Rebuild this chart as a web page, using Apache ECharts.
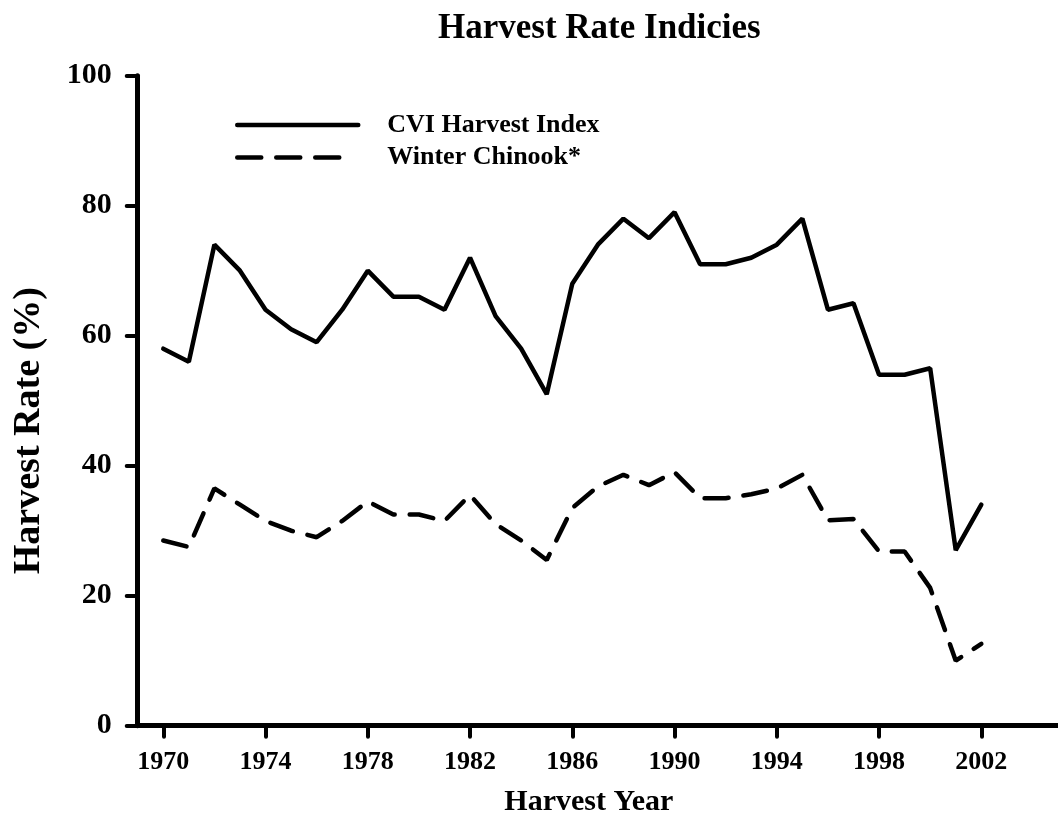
<!DOCTYPE html>
<html>
<head>
<meta charset="utf-8">
<title>Harvest Rate Indicies</title>
<script src="https://cdn.jsdelivr.net/npm/echarts@6/dist/echarts.min.js"></script>
<style>
  html, body { margin: 0; padding: 0; background: #fff; }
  #chart { width: 1058px; height: 826px; }
</style>
</head>
<body>
<div id="chart"></div>
<script>
const years = [1970, 1971, 1972, 1973, 1974, 1975, 1976, 1977, 1978, 1979, 1980,
  1981, 1982, 1983, 1984, 1985, 1986, 1987, 1988, 1989, 1990, 1991, 1992, 1993,
  1994, 1995, 1996, 1997, 1998, 1999, 2000, 2001, 2002]
const cviHarvestIndex = [58, 56, 74, 70, 64, 61, 59, 64, 70, 66, 66,
  64, 72, 63, 58, 51, 68, 74, 78, 75, 79, 71, 71, 72,
  74, 78, 64, 65, 54, 54, 55, 27, 34]
const winterChinook = [28.5, 27.5, 36.5, 34, 31.5, 30, 29, 31.5, 34.5, 32.5, 32.5,
  31.5, 35.5, 31, 28.5, 25.5, 33.5, 36.8, 38.6, 37, 39, 35, 35, 35.6,
  36.5, 38.6, 31.6, 31.8, 26.8, 26.8, 21.2, 10, 12.6]
const yearTicks = [1970, 1974, 1978, 1982, 1986, 1990, 1994, 1998, 2002]

const font = 'Liberation Serif'
const ink = '#000'
const dash = [24, 15]

const chart = echarts.init(document.getElementById('chart'), null, { renderer: 'canvas' })

chart.setOption({
  backgroundColor: '#fff',
  animation: false,
  title: {
    text: 'Harvest Rate Indicies',
    left: 433,
    top: 6,
    textStyle: { fontFamily: font, fontWeight: 'bold', fontSize: 35, color: ink }
  },
  legend: {
    orient: 'vertical',
    left: 230,
    top: 107,
    itemWidth: 121,
    itemHeight: 14,
    itemGap: 6.4,
    itemStyle: { opacity: 0, color: 'transparent', borderWidth: 0 },
    lineStyle: { width: 4.5, cap: 'round' },
    textStyle: {
      fontFamily: font, fontWeight: 'bold', fontSize: 26, lineHeight: 26, color: ink,
      padding: [0, 0, 0, 24]
    },
    data: [
      { name: 'CVI Harvest Index' },
      // three dashes then stop, like the key in the original
      { name: 'Winter Chinook*', lineStyle: { type: [24, 15, 24, 15, 24, 300] } }
    ]
  },
  grid: {
    left: 137.7,
    top: 75.7,
    width: 927, // axis runs off the right edge like the original
    height: 650
  },
  xAxis: {
    type: 'value',
    min: 1969,
    max: 2005,
    name: 'Harvest Year',
    nameLocation: 'middle',
    nameGap: 62,
    nameTextStyle: {
      fontFamily: font, fontWeight: 'bold', fontSize: 30, color: ink,
      padding: [0, 18, 0, 0]
    },
    splitLine: { show: false },
    axisLine: { lineStyle: { color: ink, width: 5 } },
    axisTick: {
      customValues: yearTicks,
      length: 11,
      lineStyle: { color: ink, width: 4, cap: 'round' }
    },
    axisLabel: {
      customValues: yearTicks,
      formatter: v => String(v),
      margin: 24,
      fontFamily: font, fontWeight: 'bold', fontSize: 26, color: ink
    }
  },
  yAxis: {
    type: 'value',
    min: 0,
    max: 100,
    interval: 20,
    name: 'Harvest Rate (%)',
    nameLocation: 'middle',
    nameRotate: 90,
    nameGap: 90,
    nameTextStyle: {
      fontFamily: font, fontWeight: 'bold', fontSize: 38, color: ink,
      padding: [0, 60, 0, 0]
    },
    splitLine: { show: false },
    axisLine: { show: true, lineStyle: { color: ink, width: 5 } },
    axisTick: { show: true, length: 11, lineStyle: { color: ink, width: 4, cap: 'round' } },
    axisLabel: {
      margin: 26,
      fontFamily: font, fontWeight: 'bold', fontSize: 30, color: ink
    }
  },
  series: [
    {
      name: 'CVI Harvest Index',
      type: 'line',
      symbol: 'none',
      data: years.map((y, i) => [y, cviHarvestIndex[i]]),
      lineStyle: { color: ink, width: 4.5, cap: 'round' },
      itemStyle: { color: ink }
    },
    {
      name: 'Winter Chinook*',
      type: 'line',
      symbol: 'none',
      data: years.map((y, i) => [y, winterChinook[i]]),
      lineStyle: { color: ink, width: 4.5, type: dash, cap: 'round' },
      itemStyle: { color: ink }
    }
  ]
})
</script>
</body>
</html>
